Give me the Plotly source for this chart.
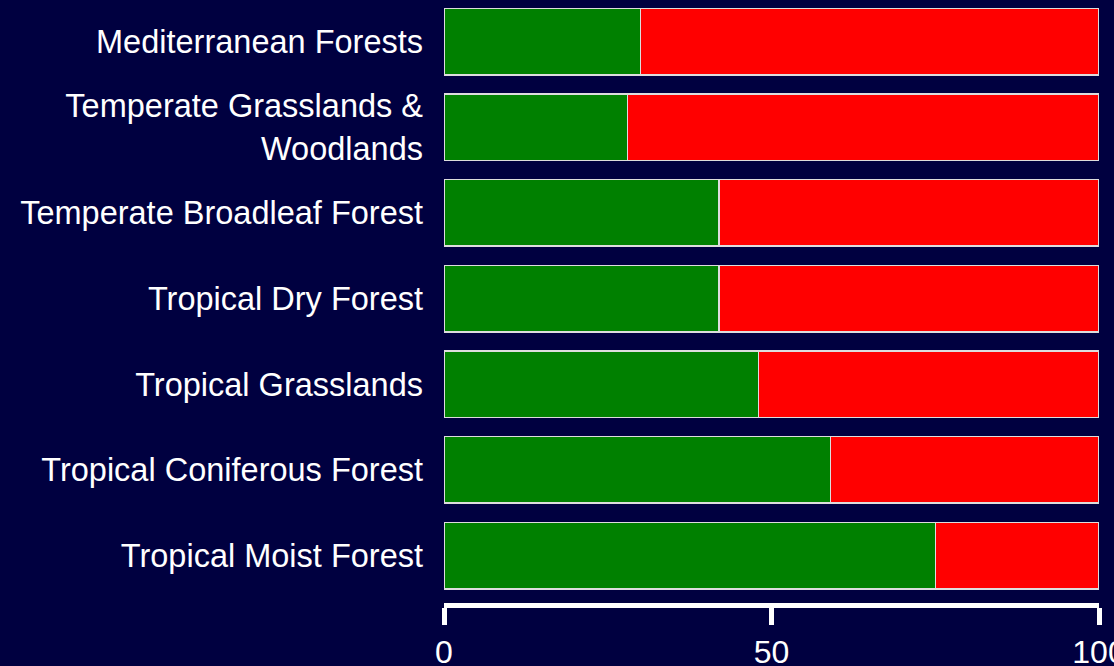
import plotly.graph_objects as go

categories = [
    "Mediterranean Forests",
    "Temperate Grasslands &<br>Woodlands",
    "Temperate Broadleaf Forest",
    "Tropical Dry Forest",
    "Tropical Grasslands",
    "Tropical Coniferous Forest",
    "Tropical Moist Forest",
]
green_values = [30, 28, 42, 42, 48, 59, 75]
red_values = [70, 72, 58, 58, 52, 41, 25]
tick_vals = [0, 50, 100]
tick_text = ["0", "50", "100"]

BG = "#000040"
FONT = "Liberation Sans, Arial, sans-serif"

fig = go.Figure()
fig.add_trace(go.Bar(
    y=categories, x=green_values, orientation="h", name="green",
    marker=dict(color="#008000", line=dict(color="#dddddd", width=1.5)),
))
fig.add_trace(go.Bar(
    y=categories, x=red_values, orientation="h", name="red",
    marker=dict(color="#ff0000", line=dict(color="#dddddd", width=1.5)),
))

fig.update_layout(
    width=1114, height=666,
    barmode="stack", bargap=0.224,
    showlegend=False,
    paper_bgcolor=BG, plot_bgcolor=BG,
    margin=dict(l=444, r=15, t=0, b=61, autoexpand=False),
    font=dict(family=FONT, color="white", size=32.5),
)
fig.update_yaxes(
    categoryorder="array", categoryarray=categories[::-1],
    range=[-0.484, 6.485],
    domain=[0.0132, 1],
    automargin=False,
    showgrid=False, zeroline=False, showline=False,
    ticks="", ticklabelstandoff=20,
    tickfont=dict(size=32.5, color="white", family=FONT),
)
fig.update_xaxes(
    range=[0, 100],
    anchor="free", position=0,
    automargin=False,
    tickvals=tick_vals, ticktext=tick_text,
    ticklabeloverflow="allow",
    showgrid=False, zeroline=False,
    showline=True, linecolor="white", linewidth=5,
    ticks="outside", ticklen=17, tickwidth=5, tickcolor="white",
    tickfont=dict(size=32, color="white", family=FONT),
)

fig.write_html(
    "out.html",
    config={"displayModeBar": False},
    post_script="document.body.style.margin='0';document.body.style.overflow='hidden';",
)
